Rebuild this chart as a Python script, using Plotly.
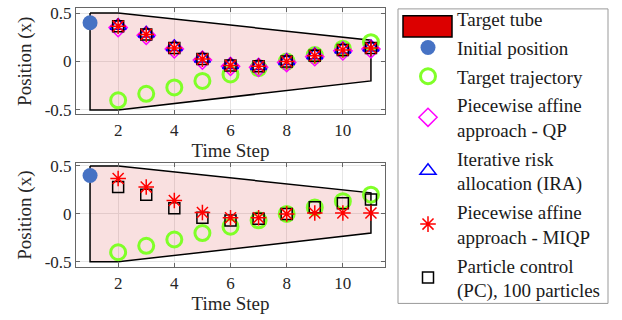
import plotly.graph_objects as go

steps = [2, 3, 4, 5, 6, 7, 8, 9, 10, 11]
tube_x = [1, 2, 11, 11, 2, 1, 1]
tube_y = [0.5, 0.5, 0.22, -0.2, -0.5, -0.5, 0.5]
init_x = [1]
init_y = [0.4]
target = [-0.4, -0.333, -0.267, -0.2, -0.133, -0.067, 0.0, 0.067, 0.133, 0.2]

# top panel
qp_top = [0.35, 0.27, 0.13, 0.015, -0.05, -0.06, -0.01, 0.05, 0.11, 0.13]
ira_top = [0.37, 0.29, 0.15, 0.03, -0.035, -0.045, 0.005, 0.065, 0.125, 0.145]
miqp_top = [0.365, 0.28, 0.14, 0.025, -0.04, -0.05, 0.0, 0.06, 0.12, 0.14]
pc_top = [0.365, 0.28, 0.14, 0.025, -0.04, -0.05, 0.0, 0.06, 0.12, 0.14]
# bottom panel
miqp_bot = [0.37, 0.28, 0.14, 0.015, -0.04, -0.04, 0.0, 0.01, 0.01, 0.01]
pc_bot = [0.28, 0.2, 0.06, -0.04, -0.07, -0.05, 0.0, 0.07, 0.11, 0.15]

xticks = [2, 4, 6, 8, 10]
yticks = [-0.5, 0, 0.5]
yticklabels = ["-0.5", "0", "0.5"]

FONT = "Liberation Serif"
TUBE_FILL = "rgba(204,0,0,0.12)"
GREEN = "rgb(128,255,40)"
W, H = 622, 320

fig = go.Figure()

def add_panel(xa, ya, show, series):
    fig.add_trace(go.Scatter(x=tube_x, y=tube_y, xaxis=xa, yaxis=ya, mode="lines",
                             fill="toself", fillcolor=TUBE_FILL,
                             line=dict(color="black", width=1.5), showlegend=False,
                             hoverinfo="skip"))
    fig.add_trace(go.Scatter(x=init_x, y=init_y, xaxis=xa, yaxis=ya, mode="markers",
                             marker=dict(symbol="circle", size=15, color="rgb(70,114,196)"),
                             name="Initial position", showlegend=show, legendrank=2,
                             legendgroup="g2"))
    fig.add_trace(go.Scatter(x=steps, y=target, xaxis=xa, yaxis=ya, mode="markers",
                             marker=dict(symbol="circle-open", size=15, color=GREEN,
                                         line=dict(color=GREEN, width=3)),
                             name="Target trajectory", showlegend=show, legendrank=3,
                             legendgroup="g3"))
    for s in series:
        fig.add_trace(go.Scatter(x=steps, y=s["y"], xaxis=xa, yaxis=ya, mode="markers",
                                 marker=dict(symbol=s["sym"], size=s["size"],
                                             color=s["color"],
                                             line=dict(color=s["color"], width=1.5)),
                                 name=s["name"], showlegend=show, legendrank=s["rank"],
                                 legendgroup="g%d" % s["rank"]))

top_series = [
    dict(y=qp_top, sym="diamond-open", size=14, color="rgb(255,0,255)",
         name="Piecewise affine<br>approach - QP", rank=4),
    dict(y=ira_top, sym="triangle-up-open", size=14, color="rgb(0,0,255)",
         name="Iterative risk<br>allocation (IRA)", rank=5),
    dict(y=pc_top, sym="square-open", size=11, color="black",
         name="Particle control<br>(PC), 100 particles", rank=7),
    dict(y=miqp_top, sym="asterisk-open", size=13, color="rgb(255,0,0)",
         name="Piecewise affine<br>approach - MIQP", rank=6),
]
bot_series = [
    dict(y=pc_bot, sym="square-open", size=11, color="black",
         name="Particle control<br>(PC), 100 particles", rank=7),
    dict(y=miqp_bot, sym="asterisk-open", size=13, color="rgb(255,0,0)",
         name="Piecewise affine<br>approach - MIQP", rank=6),
]

add_panel("x", "y", True, top_series)
add_panel("x2", "y2", False, bot_series)

# legend-only entry for the tube; its swatch is drawn as a shape below
fig.add_trace(go.Scatter(x=[None], y=[None], mode="markers",
                         marker=dict(color="rgba(0,0,0,0)", size=1),
                         name="Target tube", legendrank=1, legendgroup="g1"))

axis_common = dict(showline=True, linecolor="#666", linewidth=1, mirror="ticks",
                   ticks="inside", ticklen=4, tickcolor="#666",
                   showgrid=True, gridcolor="#e6e6e6", zeroline=False,
                   tickfont=dict(family=FONT, size=17, color="#262626"))
title_font = dict(family=FONT, size=19, color="#262626")

xdom = [76 / W, 385 / W]
fig.update_layout(
    width=W, height=H,
    margin=dict(l=0, r=0, t=0, b=0),
    paper_bgcolor="white", plot_bgcolor="white",
    font=dict(family=FONT, size=19, color="#1a1a1a"),
    xaxis=dict(domain=xdom, range=[0.5, 11.5], tickvals=xticks, anchor="y",
               title=dict(text="Time Step", standoff=0, font=title_font), **axis_common),
    yaxis=dict(domain=[1 - 112.3 / H, 1 - 2.3 / H], range=[-0.546, 0.55],
               tickvals=yticks, ticktext=yticklabels, anchor="x",
               title=dict(text="Position (x)", standoff=8, font=title_font), **axis_common),
    xaxis2=dict(domain=xdom, range=[0.5, 11.5], tickvals=xticks, anchor="y2",
                title=dict(text="Time Step", standoff=0, font=title_font), **axis_common),
    yaxis2=dict(domain=[1 - 270.5 / H, 1 - 162.7 / H], range=[-0.556, 0.53],
                tickvals=yticks, ticktext=yticklabels, anchor="x2",
                title=dict(text="Position (x)", standoff=8, font=title_font), **axis_common),
    legend=dict(x=399 / W, y=1 - 313.5 / H, xanchor="left", yanchor="bottom",
                borderwidth=0, bgcolor="rgba(255,255,255,0)",
                font=dict(family=FONT, size=19, color="#1a1a1a"),
                tracegroupgap=1, itemwidth=48),
    showlegend=True,
    shapes=[
        dict(type="rect", xref="paper", yref="paper",
             x0=398 / W, x1=608 / W, y0=1 - 308 / H, y1=1 - 3 / H,
             fillcolor="rgba(0,0,0,0)", line=dict(color="#999", width=1), layer="above"),
        dict(type="rect", xref="paper", yref="paper",
             x0=403 / W, x1=452 / W, y0=1 - 32 / H, y1=1 - 10 / H,
             fillcolor="rgb(220,0,0)", line=dict(color="black", width=1.5),
             layer="above"),
    ],
)

fig.write_html("out.html", config={"displayModeBar": False},
               post_script="document.body.style.margin='0px';")
